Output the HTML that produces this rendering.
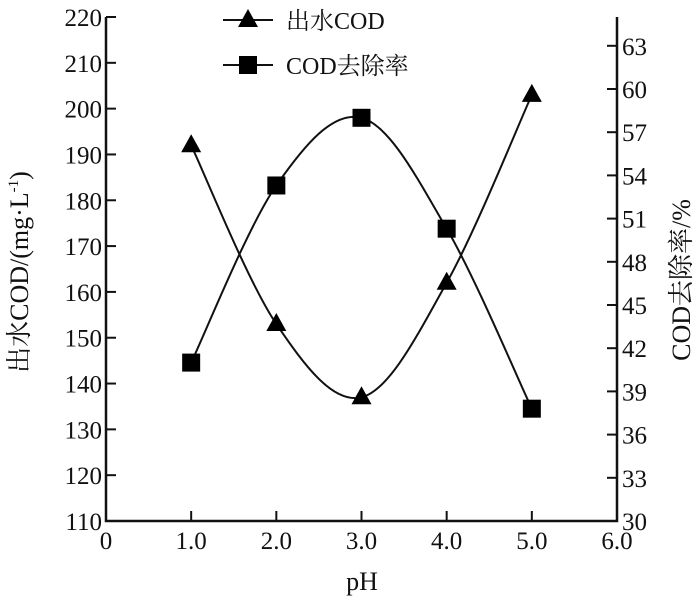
<!DOCTYPE html>
<html><head><meta charset="utf-8"><style>
body{margin:0;background:#fff}
svg text{font-family:"Liberation Serif","Noto Serif CJK SC",serif;fill:#111}
</style></head><body>
<svg width="700" height="601" viewBox="0 0 700 601" id="c"></svg>
<script>
const categories=[1.0,2.0,3.0,4.0,5.0];
const codValues=[192,153,137,162,203];
const removalValues=[41.0,53.3,58.0,50.3,37.8];
const xTicks=["0","1.0","2.0","3.0","4.0","5.0","6.0"];
const xTickVals=[0,1,2,3,4,5,6];
const yLeftTicks=[110,120,130,140,150,160,170,180,190,200,210,220];
const yRightTicks=[30,33,36,39,42,45,48,51,54,57,60,63];
const L=106,R=617,T=17,B=521;
const xs=v=>L+(R-L)*v/6;
const yl=v=>B-(B-T)*(v-110)/110;
const yr=v=>B-(B-T)*(v-30)/35;
const svg=document.getElementById('c');
const NS='http://www.w3.org/2000/svg';
function mk(t,a,p){const e=document.createElementNS(NS,t);for(const k in a)e.setAttribute(k,a[k]);(p||svg).appendChild(e);return e;}
const ax=mk('path',{d:`M${L},${T}V${B}H${R}V${T}`,fill:'none',stroke:'#111','stroke-width':2.5});


xTickVals.forEach((v,i)=>{
  if(v>0&&v<6){const t=mk('line',{x1:xs(v),x2:xs(v),y1:B,y2:B-10,stroke:'#111','stroke-width':2});
  
  }
  const tx=mk('text',{x:xs(v),y:B+28,'text-anchor':'middle','font-size':25});
  tx.textContent=xTicks[i];
  
  
});
yLeftTicks.forEach(v=>{
  const t=mk('line',{x1:L,x2:L+10,y1:yl(v),y2:yl(v),stroke:'#111','stroke-width':2});
  
  
  const tx=mk('text',{x:L-4,y:yl(v)+9,'text-anchor':'end','font-size':25});
  tx.textContent=v;
  
  
});
yRightTicks.forEach(v=>{
  const t=mk('line',{x1:R,x2:R-10,y1:yr(v),y2:yr(v),stroke:'#111','stroke-width':2});
  
  
  const tx=mk('text',{x:R+5,y:yr(v)+9,'font-size':25});
  tx.textContent=v;
  
  
});
function spline(pts){
  let d=`M${pts[0][0]},${pts[0][1]}`;
  for(let i=0;i<pts.length-1;i++){
    const p0=pts[Math.max(i-1,0)],p1=pts[i],p2=pts[i+1],p3=pts[Math.min(i+2,pts.length-1)];
    const c1=[p1[0]+(p2[0]-p0[0])/6,p1[1]+(p2[1]-p0[1])/6];
    const c2=[p2[0]-(p3[0]-p1[0])/6,p2[1]-(p3[1]-p1[1])/6];
    d+=`C${c1[0]},${c1[1]} ${c2[0]},${c2[1]} ${p2[0]},${p2[1]}`;
  }
  return d;
}
const codPts=categories.map((c,i)=>[xs(c),yl(codValues[i])]);
const remPts=categories.map((c,i)=>[xs(c),yr(removalValues[i])]);
const l1=mk('path',{d:spline(codPts),fill:'none',stroke:'#111','stroke-width':2});


const l2=mk('path',{d:spline(remPts),fill:'none',stroke:'#111','stroke-width':2});


codPts.forEach(p=>{
  const m=mk('path',{d:`M${p[0]},${p[1]-11}L${p[0]+10},${p[1]+7}L${p[0]-10},${p[1]+7}Z`,fill:'#000'});
  
  
});
remPts.forEach(p=>{
  const m=mk('rect',{x:p[0]-9,y:p[1]-9,width:18,height:18,fill:'#000'});
  
  
});
const g=mk('g',{});


mk('line',{x1:223,x2:273,y1:20,y2:20,stroke:'#111','stroke-width':2},g);
mk('path',{d:'M248,9L258,27L238,27Z',fill:'#000'},g);
const lt1=mk('text',{x:286,y:29,'font-size':24},g);lt1.textContent='出水COD';


mk('line',{x1:223,x2:273,y1:65,y2:65,stroke:'#111','stroke-width':2},g);
mk('rect',{x:239,y:56,width:18,height:18,fill:'#000'},g);
const lt2=mk('text',{x:286,y:74,'font-size':24},g);lt2.textContent='COD去除率';


const xt=mk('text',{x:362,y:590,'text-anchor':'middle','font-size':26});xt.textContent='pH';


const yt=mk('text',{x:0,y:0,'text-anchor':'middle','font-size':26,transform:'translate(28,272) rotate(-90)'});yt.innerHTML='出水COD/(mg·L<tspan font-size="15" dy="-10">-1</tspan><tspan dy="10">)</tspan>';


const rt=mk('text',{x:0,y:0,'text-anchor':'middle','font-size':26,transform:'translate(690,280) rotate(-90)'});rt.textContent='COD去除率/%';


</script>
</body></html>
